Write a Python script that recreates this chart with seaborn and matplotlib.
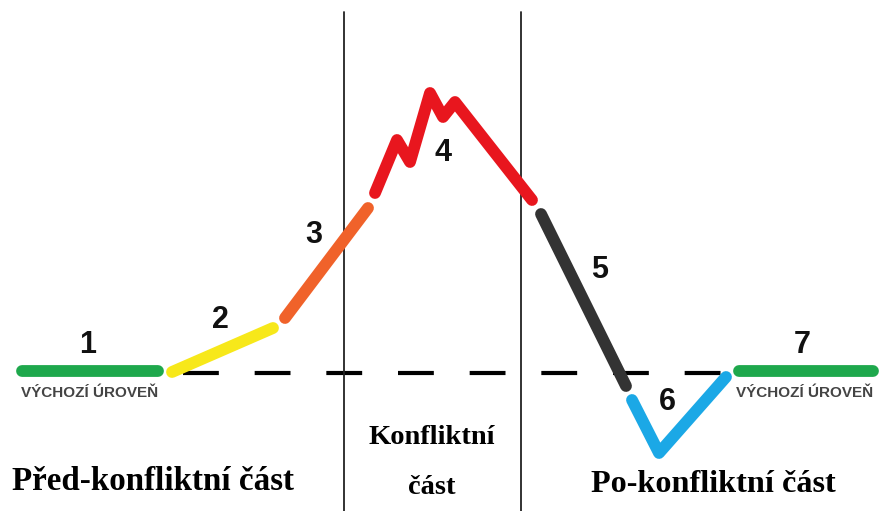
import matplotlib
matplotlib.use("Agg")
import matplotlib.pyplot as plt
import seaborn as sns
import pandas as pd

# Phases of the conflict curve, positions (pixel space)
seg_labels = ["1", "2", "3", "4", "5", "6", "7"]
seg_colors = ["#1ea84c", "#f7e81a", "#f0622a", "#e8161e", "#333333", "#1ba8e6", "#1ea84c"]
seg_x = [
    [22, 158],
    [172, 273],
    [285, 368],
    [375, 397, 410, 430, 443, 455, 532],
    [541, 626],
    [632, 659, 726],
    [739, 873],
]
seg_y = [
    [371, 371],
    [372, 328],
    [318, 208],
    [193, 140, 162, 93, 117, 102, 200],
    [214, 386],
    [400, 453, 377],
    [371, 371],
]
label_x = [88, 220, 314, 443, 600, 667, 802]
label_y = [345, 320, 235, 153, 270, 402, 345]

baseline_y = 373
baseline_x = [183, 727]
divider_x = [344, 521]
divider_top = 12

level_text = "VÝCHOZÍ ÚROVEŇ"
level_x = [90, 805]
level_y = 393

phase_texts = ["Před-konfliktní část", "Konfliktní", "část", "Po-konfliktní část"]
phase_x = [153, 432, 432, 713]
phase_y = [482, 437, 488, 484]
phase_size = [23.8, 20.5, 20.5, 23.2]

sns.set_theme(style="white")
plt.rcParams["font.family"] = ["Liberation Sans", "DejaVu Sans"]

fig = plt.figure(figsize=(8.83, 5.11), dpi=100)
ax = fig.add_axes([0, 0, 1, 1])
ax.set_xlim(0, 883)
ax.set_ylim(511, 0)
ax.axis("off")

# dashed baseline
ax.plot(baseline_x, [baseline_y, baseline_y], color="black", lw=3,
        dashes=(8.6, 8.6), solid_capstyle="butt")

# phase dividers
for xv in divider_x:
    ax.plot([xv, xv], [divider_top, 511], color="#222222", lw=1.3)

for i, lab in enumerate(seg_labels):
    df = pd.DataFrame({"x": seg_x[i], "y": seg_y[i]})
    sns.lineplot(data=df, x="x", y="y", ax=ax, sort=False, estimator=None,
                 color=seg_colors[i], lw=8.5, solid_capstyle="round",
                 solid_joinstyle="round")
    ax.text(label_x[i], label_y[i], lab, fontsize=22, fontweight="bold",
            ha="center", va="center", color="#111111")

for xv in level_x:
    ax.text(xv, level_y, level_text, fontsize=11, fontweight="bold",
            ha="center", va="center", color="#444444")

for t, xv, yv, fs in zip(phase_texts, phase_x, phase_y, phase_size):
    ax.text(xv, yv, t, fontsize=fs, fontweight="bold", ha="center", va="center",
            family=["Liberation Serif", "DejaVu Serif"], color="black")

ax.set_xlabel("")
ax.set_ylabel("")
fig.savefig("out.png", dpi=100)
